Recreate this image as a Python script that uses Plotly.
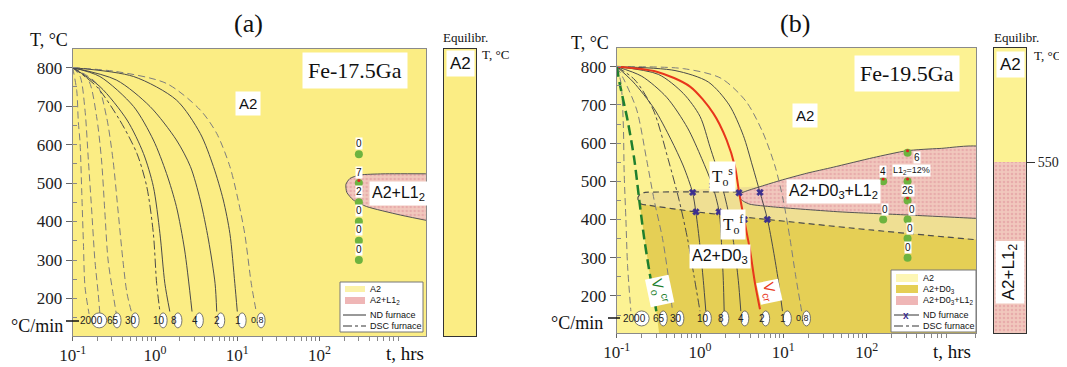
import math
import plotly.graph_objects as go

W, H = 1067, 367
OFF = 8                      # page body margin of the html page
WF, HF = W - OFF, H - OFF    # figure size so that the page fits the window
SERIF = "Liberation Serif"
SANS = "Liberation Sans"

# ---------------- Panel (a): Fe-17.5Ga  (t in hours, T in deg C) ----------------
a_dash1_t = [0.100, 0.112, 0.117, 0.123, 0.129, 0.135, 0.141, 0.158]
a_dash1_T = [800, 740, 660, 603, 473, 343, 231, 160]
a_dash2_t = [0.100, 0.123, 0.141, 0.155, 0.170, 0.186, 0.204, 0.214]
a_dash2_T = [800, 777, 690, 560, 430, 300, 213, 160]
a_dash3_t = [0.100, 0.155, 0.195, 0.224, 0.245, 0.269, 0.309, 0.339]
a_dash3_T = [800, 768, 673, 560, 430, 300, 213, 160]
a_dash4_t = [0.100, 0.195, 0.257, 0.309, 0.355, 0.407, 0.457, 0.525]
a_dash4_T = [800, 759, 673, 560, 430, 300, 213, 160]
a_dsc10_t = [0.100, 0.195, 0.372, 0.603, 0.794, 0.955, 1.047, 1.148]
a_dsc10_T = [800, 751, 664, 577, 491, 369, 239, 166]
a_nd8_t = [0.100, 0.214, 0.457, 0.724, 0.955, 1.148, 1.318, 1.514]
a_nd8_T = [800, 751, 664, 577, 491, 369, 239, 166]
a_nd4_t = [0.100, 0.214, 0.550, 0.955, 1.380, 1.820, 2.291, 2.818]
a_nd4_T = [800, 777, 699, 612, 525, 439, 326, 166]
a_nd2_t = [0.100, 0.339, 0.871, 1.820, 2.692, 3.548, 4.467, 5.370, 5.623]
a_nd2_T = [800, 768, 699, 612, 543, 456, 352, 239, 166]
a_nd1_t = [0.100, 0.550, 1.820, 3.548, 5.129, 6.761, 8.128, 9.333, 10.0]
a_nd1_T = [800, 777, 716, 629, 543, 456, 369, 239, 166]
a_dash08_t = [0.100, 0.339, 1.380, 3.548, 5.623, 8.128, 10.23, 12.30, 14.79, 16.98]
a_dash08_T = [800, 790, 759, 690, 629, 543, 456, 369, 239, 166]

a_l12_t = [2600, 589, 309, 234, 209, 214, 257, 372, 955, 2600]
a_l12_T = [524, 524, 521, 512, 497, 476, 456, 439, 417, 398]

a_dot_t = [300, 300, 300, 300, 300, 300]
a_dot_T = [575, 500, 450, 400, 350, 300]
a_dot_lbl = ["0", "7", "2", "0", "0", "0"]
a_red_t = [300]
a_red_T = [507]

rate_lbl = ["2000", "65", "30", "10", "8", "4", "2", "1", "0.8"]
a_rate_t = [0.170, 0.309, 0.513, 1.122, 1.698, 3.090, 5.623, 10.23, 17.38]
a_rate_T = 143

# ---------------- Panel (b): Fe-19.5Ga ----------------
b_dash1_t = [0.100, 0.112, 0.120, 0.123, 0.129, 0.135, 0.148]
b_dash1_T = [800, 760, 650, 520, 400, 280, 160]
b_green_t = [0.100, 0.110, 0.135, 0.162, 0.188, 0.214, 0.245, 0.275, 0.299]
b_green_T = [800, 750, 660, 560, 445, 350, 268, 205, 160]
b_dash2_t = [0.100, 0.123, 0.174, 0.229, 0.282, 0.355, 0.417, 0.468]
b_dash2_T = [800, 765, 687, 556, 450, 350, 250, 160]
b_dsc_t = [0.100, 0.166, 0.275, 0.417, 0.562, 0.708, 0.851, 1.0]
b_dsc_T = [800, 765, 687, 556, 450, 350, 250, 160]
b_nd10_t = [0.100, 0.158, 0.282, 0.447, 0.631, 0.813, 0.891, 1.0, 1.096, 1.175]
b_nd10_T = [800, 760, 690, 610, 540, 471, 420, 330, 240, 160]
b_nd8_t = [0.100, 0.200, 0.398, 0.708, 1.047, 1.413, 1.698, 1.820, 1.905, 1.950]
b_nd8_T = [800, 775, 720, 640, 560, 489, 420, 330, 240, 160]
b_nd4_t = [0.100, 0.316, 0.631, 1.0, 1.318, 1.778, 2.188, 2.570, 2.884, 3.090]
b_nd4_T = [800, 780, 730, 670, 590, 500, 420, 330, 240, 160]
b_vcr_t = [0.100, 0.302, 0.759, 1.445, 2.089, 2.630, 2.951, 3.388, 3.981, 4.571, 5.248]
b_vcr_T = [800, 787, 748, 678, 608, 538, 470, 400, 320, 233, 165]
b_nd1_t = [0.100, 0.501, 1.259, 2.239, 3.311, 4.266, 5.248, 6.457, 7.586, 8.710, 9.772]
b_nd1_T = [800, 790, 760, 700, 620, 540, 471, 400, 320, 240, 160]
b_dash08_t = [0.100, 0.631, 1.778, 3.548, 5.623, 7.943, 10.0, 12.02, 14.13, 16.60]
b_dash08_T = [800, 795, 770, 710, 630, 540, 450, 350, 250, 160]

b_xmark_t = [0.817, 1.419, 2.938, 5.248, 0.895, 1.690, 3.404, 6.427]
b_xmark_T = [471, 489, 470, 471, 420, 420, 400, 400]

b_d03_t = [0.188, 0.214, 0.245, 0.275, 0.299, 0.324, 2600, 2600, 2042, 120.2, 6.457, 0.891, 0.229]
b_d03_T = [442, 350, 268, 205, 160, 100, 100, 345, 348, 372, 400, 420, 438]
b_band_t = [0.219, 2600, 2600, 120.2, 6.457, 0.891, 0.229, 0.200, 0.182, 0.180, 0.191]
b_band_T = [471, 471, 345, 372, 400, 420, 438, 440, 447, 458, 467]
b_to_t = [2.95, 0.219, 0.191, 0.180, 0.182, 0.200, 0.229, 0.891, 6.457, 120.2, 2600]
b_to_T = [472, 471, 467, 458, 447, 440, 438, 420, 400, 372, 345]
b_l12_t = [2.951, 3.548, 5.623, 9.12, 19.05, 39.8, 120.2, 302, 759, 2600, 2600,
           2042, 302, 47.9, 7.586, 3.981, 3.311, 3.020, 2.951]
b_l12_T = [466, 474, 488, 502, 521, 537, 562, 580, 586, 587, 402,
           403, 412, 420, 433, 440, 448, 456, 466]

b_dot_t = [310, 310, 310, 310, 310, 310, 158, 158]
b_dot_T = [575, 500, 450, 400, 350, 300, 500, 400]
b_dot_lbl = ["6", "L1<sub>2</sub>=12%", "26", "0", "0", "0", "4", "0"]
b_dot_dx = [9, 4, 0, 4, 2, 0, 0, 2]
b_dot_dy = [-5, 11, 10, 10, 10, 10, 10, 10]
b_red_t = [310, 158, 310, 310]
b_red_T = [580, 506, 506, 456]

b_rate_t = [0.162, 0.324, 0.513, 1.096, 1.778, 3.090, 5.495, 10.0, 16.98]
b_rate_T = 141

eq_b_boundary = 550

# ---------------- colours ----------------
A2_A = "#fbed84"
A2_B = "#fcf293"
BAND = "#efdf93"
DARK = "#e5cf55"
PINK_BG = "#f1c8bd"
PINK_FG = "#e0909a"
LINE = "#4a4a4a"
GRAYD = "#7d7d7d"


# ---------------- geometry (window pixels -> paper) ----------------
def P(x):
    return (x - OFF) / WF


def Q(y):
    return 1 - (y - OFF) / HF


xa_dom = [P(72.7), P(426)]
ya_dom = [Q(336), Q(49)]
xe_a_dom = [P(444), P(476)]
xb_dom = [P(616.7), P(976)]
yb_dom = [Q(333), Q(48)]
xe_b_dom = [P(994), P(1026)]
yr_a = [102.4, 848.6]
yr_b = [102.9, 849.0]
xr_a = [-1, 3.293]
xr_b = [-1, 3.313]

fig = go.Figure()


def curve(t, T, xa, ya, color=LINE, width=1.0, dash="solid", smooth=0.8):
    fig.add_trace(go.Scatter(x=t, y=T, xaxis=xa, yaxis=ya, mode="lines",
                             line=dict(color=color, width=width, dash=dash,
                                       shape="spline", smoothing=smooth),
                             hoverinfo="skip", showlegend=False))


def region(t, T, xa, ya, color, pattern=False, outline=None, shape="linear"):
    kw = dict(x=t, y=T, xaxis=xa, yaxis=ya, mode="lines", fill="toself",
              fillcolor=color, hoverinfo="skip", showlegend=False,
              line=dict(width=1 if outline else 0, color=outline or color,
                        shape=shape, smoothing=0.6))
    if pattern:
        kw["fillpattern"] = dict(shape=".", bgcolor=PINK_BG, fgcolor=PINK_FG,
                                 size=4, solidity=0.35)
    fig.add_trace(go.Scatter(**kw))


# ---------- panel (a) ----------
region(a_l12_t, a_l12_T, "x", "y", PINK_BG, pattern=True, outline="#555555", shape="spline")
dash_long = "7px,4px"
for t, T in [(a_dash1_t, a_dash1_T), (a_dash2_t, a_dash2_T), (a_dash3_t, a_dash3_T),
             (a_dash4_t, a_dash4_T), (a_dash08_t, a_dash08_T)]:
    curve(t, T, "x", "y", color=GRAYD, dash=dash_long)
curve(a_dsc10_t, a_dsc10_T, "x", "y", dash="dashdot")
for t, T in [(a_nd8_t, a_nd8_T), (a_nd4_t, a_nd4_T), (a_nd2_t, a_nd2_T), (a_nd1_t, a_nd1_T)]:
    curve(t, T, "x", "y")
fig.add_trace(go.Scatter(x=a_dot_t, y=a_dot_T, xaxis="x", yaxis="y", mode="markers",
                         marker=dict(color="#6db33f", size=8), hoverinfo="skip", showlegend=False))
fig.add_trace(go.Scatter(x=a_red_t, y=a_red_T, xaxis="x", yaxis="y", mode="markers",
                         marker=dict(color="#e02020", size=3), hoverinfo="skip", showlegend=False))

# ---------- panel (b) ----------
region(b_band_t, b_band_T, "x3", "y3", BAND, shape="spline")
region(b_d03_t, b_d03_T, "x3", "y3", DARK)
region(b_l12_t, b_l12_T, "x3", "y3", PINK_BG, pattern=True, outline="#555555", shape="spline")
curve(b_to_t, b_to_T, "x3", "y3", color="#4d4d4d", width=1.2, dash="6px,4px", smooth=0.4)
for t, T in [(b_dash1_t, b_dash1_T), (b_dash2_t, b_dash2_T), (b_dash08_t, b_dash08_T)]:
    curve(t, T, "x3", "y3", color=GRAYD, dash=dash_long)
curve(b_dsc_t, b_dsc_T, "x3", "y3", dash="dashdot")
for t, T in [(b_nd10_t, b_nd10_T), (b_nd8_t, b_nd8_T), (b_nd4_t, b_nd4_T), (b_nd1_t, b_nd1_T)]:
    curve(t, T, "x3", "y3")
curve(b_vcr_t, b_vcr_T, "x3", "y3", color="#e8361c", width=2)
curve(b_green_t, b_green_T, "x3", "y3", color="#1f7f2e", width=2.5, dash="10px,5px")
fig.add_trace(go.Scatter(x=b_xmark_t, y=b_xmark_T, xaxis="x3", yaxis="y3", mode="markers",
                         marker=dict(symbol="x", color="#3b2f8f", size=6,
                                     line=dict(width=0.5, color="#3b2f8f")),
                         hoverinfo="skip", showlegend=False))
fig.add_trace(go.Scatter(x=b_dot_t, y=b_dot_T, xaxis="x3", yaxis="y3", mode="markers",
                         marker=dict(color="#6db33f", size=8), hoverinfo="skip", showlegend=False))
fig.add_trace(go.Scatter(x=b_red_t, y=b_red_T, xaxis="x3", yaxis="y3", mode="markers",
                         marker=dict(color="#e02020", size=3), hoverinfo="skip", showlegend=False))

# ---------- equilibrium bars ----------
fig.add_trace(go.Bar(x=[0], y=[yr_a[1] - yr_a[0]], base=[yr_a[0]], width=1,
                     xaxis="x2", yaxis="y2", marker=dict(color=A2_A, line=dict(width=0)),
                     hoverinfo="skip", showlegend=False))
fig.add_trace(go.Bar(x=[0], y=[eq_b_boundary - yr_b[0]], base=[yr_b[0]], width=1,
                     xaxis="x4", yaxis="y4",
                     marker=dict(color=PINK_BG, line=dict(width=0),
                                 pattern=dict(shape=".", bgcolor=PINK_BG, fgcolor=PINK_FG,
                                              size=4, solidity=0.35)),
                     hoverinfo="skip", showlegend=False))
fig.add_trace(go.Bar(x=[0], y=[yr_b[1] - eq_b_boundary], base=[eq_b_boundary], width=1,
                     xaxis="x4", yaxis="y4", marker=dict(color=A2_B, line=dict(width=0)),
                     hoverinfo="skip", showlegend=False))

# ---------- axes ----------
minor_vals = [m * 10 ** e for e in range(-1, 4) for m in range(2, 10)]
xticks = dict(tickvals=[0.1, 1, 10, 100],
              ticktext=["10<sup>-1</sup>", "10<sup>0</sup>", "10<sup>1</sup>", "10<sup>2</sup>"])


def xmain(dom, rng, anchor):
    return dict(domain=dom, range=rng, type="log", anchor=anchor, showline=True, mirror=True,
                linecolor="#8a8a8a", linewidth=1, ticks="outside", ticklen=4,
                tickcolor="#666", showgrid=False, zeroline=False, automargin=False,
                tickfont=dict(family=SERIF, size=17, color="#222"),
                minor=dict(tickmode="array", tickvals=minor_vals, ticks="outside",
                           ticklen=4, tickcolor="#888", showgrid=False), **xticks)


def ymain(dom, rng, anchor):
    return dict(domain=dom, range=rng, anchor=anchor, showline=True, mirror=True,
                linecolor="#8a8a8a", linewidth=1, ticks="outside", ticklen=6,
                tickcolor="#666", dtick=100, tick0=0, showgrid=False, zeroline=False,
                automargin=False, tickfont=dict(family=SERIF, size=17, color="#222"),
                minor=dict(dtick=50, ticks="inside", ticklen=4, tickcolor="#888",
                           showgrid=False))


def xeq(dom, anchor):
    return dict(domain=dom, range=[-0.5, 0.5], anchor=anchor, showline=True, mirror=True,
                linecolor="#333", linewidth=1, showticklabels=False, ticks="",
                showgrid=False, zeroline=False, fixedrange=True, automargin=False)


fig.update_layout(
    width=WF, height=HF, autosize=False, margin=dict(l=0, r=0, t=0, b=0, pad=0),
    paper_bgcolor="white", plot_bgcolor="white", barmode="overlay", bargap=0,
    xaxis=xmain(xa_dom, xr_a, "y"), yaxis=ymain(ya_dom, yr_a, "x"),
    xaxis2=xeq(xe_a_dom, "y2"),
    yaxis2=dict(domain=ya_dom, range=yr_a, anchor="x2", showline=True, mirror=True,
                linecolor="#333", showticklabels=False, ticks="", showgrid=False,
                zeroline=False, automargin=False),
    xaxis3=xmain(xb_dom, xr_b, "y3"), yaxis3=ymain(yb_dom, yr_b, "x3"),
    xaxis4=xeq(xe_b_dom, "y4"),
    yaxis4=dict(domain=yb_dom, range=yr_b, anchor="x4", side="right", showline=True,
                mirror=True, linecolor="#333", tickvals=[eq_b_boundary], ticks="outside",
                ticklen=8, tickcolor="#333", showgrid=False, zeroline=False,
                automargin=False, tickfont=dict(family=SERIF, size=14, color="#222")),
)

# ---------- shapes ----------
shapes = []
shapes.append(dict(type="rect", xref="x domain", yref="y domain", x0=0, x1=1, y0=0, y1=1,
                   fillcolor=A2_A, line=dict(width=0), layer="below"))
shapes.append(dict(type="rect", xref="x3 domain", yref="y3 domain", x0=0, x1=1, y0=0, y1=1,
                   fillcolor=A2_B, line=dict(width=0), layer="below"))


def rate_circles(ts, T, xr, yr):
    for lbl, t in zip(rate_lbl, ts):
        w = 30 if lbl == "2000" else 16
        shapes.append(dict(type="circle", xref=xr, yref=yr, xsizemode="pixel",
                           ysizemode="pixel", xanchor=t, yanchor=T, x0=-w / 2, x1=w / 2,
                           y0=-7.5, y1=7.5, fillcolor="white",
                           line=dict(color="#555", width=0.8), layer="above"))


rate_circles(a_rate_t, a_rate_T, "x", "y")
rate_circles(b_rate_t, b_rate_T, "x3", "y3")

# tick markers for the cooling-rate row
for x0, x1, yy in [(66, 79, 321), (608, 620, 318)]:
    shapes.append(dict(type="line", xref="paper", yref="paper", x0=P(x0), x1=P(x1),
                       y0=Q(yy), y1=Q(yy), line=dict(color="#111", width=1.5)))

# white label box in equilibrium bar (b)
shapes.append(dict(type="rect", xref="x4", yref="y4", x0=-0.45, x1=0.45, y0=180, y1=344,
                   fillcolor="white", line=dict(width=0), layer="above"))

# legends (boxes, swatches, line samples)
shapes.append(dict(type="rect", xref="paper", yref="paper", x0=P(340), x1=P(423),
                   y0=Q(332), y1=Q(282), fillcolor="white", line=dict(color="#777", width=1)))
shapes.append(dict(type="rect", xref="paper", yref="paper", x0=P(345), x1=P(365),
                   y0=Q(292), y1=Q(286), fillcolor="#fbf2a8", line=dict(width=0)))
shapes.append(dict(type="rect", xref="paper", yref="paper", x0=P(345), x1=P(365),
                   y0=Q(304), y1=Q(297), fillcolor="#efb6b6", line=dict(width=0)))
shapes.append(dict(type="line", xref="paper", yref="paper", x0=P(343), x1=P(366),
                   y0=Q(315), y1=Q(315), line=dict(color="#333", width=1)))
shapes.append(dict(type="line", xref="paper", yref="paper", x0=P(343), x1=P(366),
                   y0=Q(326), y1=Q(326), line=dict(color="#333", width=1, dash="dashdot")))

shapes.append(dict(type="rect", xref="paper", yref="paper", x0=P(891), x1=P(976),
                   y0=Q(332), y1=Q(270), fillcolor="white", line=dict(color="#777", width=1)))
shapes.append(dict(type="rect", xref="paper", yref="paper", x0=P(896), x1=P(918),
                   y0=Q(282), y1=Q(274), fillcolor="#fdf6b4", line=dict(width=0)))
shapes.append(dict(type="rect", xref="paper", yref="paper", x0=P(896), x1=P(918),
                   y0=Q(293), y1=Q(285), fillcolor=DARK, line=dict(width=0)))
shapes.append(dict(type="rect", xref="paper", yref="paper", x0=P(896), x1=P(918),
                   y0=Q(305), y1=Q(296), fillcolor="#efb6b6", line=dict(width=0)))
shapes.append(dict(type="line", xref="paper", yref="paper", x0=P(894), x1=P(919),
                   y0=Q(315), y1=Q(315), line=dict(color="#333", width=1)))
shapes.append(dict(type="line", xref="paper", yref="paper", x0=P(894), x1=P(919),
                   y0=Q(326), y1=Q(326), line=dict(color="#333", width=1, dash="dashdot")))

fig.update_layout(shapes=shapes)

# ---------- annotations ----------
ann = []


def A(text, x, y, xref="paper", yref="paper", size=12, family=SANS, color="#111",
      bg=None, pad=1, xanchor="center", yanchor="middle", **kw):
    d = dict(text=text, x=x, y=y, xref=xref, yref=yref, showarrow=False,
             font=dict(family=family, size=size, color=color),
             xanchor=xanchor, yanchor=yanchor)
    if bg:
        d.update(bgcolor=bg, borderpad=pad)
    d.update(kw)
    ann.append(d)


L = math.log10

# titles and axis captions
A("(a)", P(248), Q(8.5), size=26, family=SERIF, yanchor="top", borderpad=0)
A("(b)", P(795), Q(8.5), size=26, family=SERIF, yanchor="top", borderpad=0)
A("T, °C", P(49), Q(40), size=18, family=SERIF)
A("T, °C", P(590), Q(43), size=18, family=SERIF)
A("t, hrs", P(405), Q(353), size=19, family=SERIF)
A("t, hrs", P(952), Q(351), size=19, family=SERIF)
A("°C/min", P(37), Q(326), size=18, family=SERIF)
A("°C/min", P(577), Q(323), size=18, family=SERIF)
A("Equilibr.", P(465), Q(37), size=13, family=SERIF)
A("Equilibr.", P(1016), Q(37), size=13, family=SERIF)
A("T, °C", P(495), Q(54), size=13, family=SERIF)
A("T, °C", P(1047), Q(55), size=13, family=SERIF)

# panel (a) region labels
A("A2", L(13.5), 706, "x", "y", size=15, bg="white", pad=3)
A("Fe-17.5Ga", L(270), 794, "x", "y", size=22, family=SERIF, bg="white", pad=5)
A("A2+L1<sub>2</sub>", L(912), 473, "x", "y", size=16, bg="white", pad=2)

# panel (b) region labels
A("A2", L(18.2), 673, "x3", "y3", size=15, bg="white", pad=3)
A("Fe-19.5Ga", L(302), 781, "x3", "y3", size=22, family=SERIF, bg="white", pad=5)
A("A2+D0<sub>3</sub>+L1<sub>2</sub>", L(39.8), 473, "x3", "y3", size=16, bg="white", pad=2)
A("A2+D0<sub>3</sub>", L(1.74), 303, "x3", "y3", size=16, bg="white", pad=2)
A("T<sub>o</sub><sup>s</sup>", L(1.86), 512, "x3", "y3", size=17, family=SERIF, bg="white", pad=2)
A("T<sub>o</sub><sup>f</sup>", L(2.51), 386, "x3", "y3", size=17, family=SERIF, bg="white", pad=2)
A("V<sub>o</sub><sup>cr</sup>", L(0.33), 212, "x3", "y3", size=15, color="#1f7f2e",
  bg="white", pad=1, textangle=78)
A("V<sub>cr</sub>", L(6.9), 210, "x3", "y3", size=15, color="#e8361c",
  bg="white", pad=1, textangle=78)

# dot labels
for t, T, lbl in zip(a_dot_t, a_dot_T, a_dot_lbl):
    A(lbl, L(t), T, "x", "y", size=10, bg="white", pad=0, yshift=11)
for t, T, lbl, dx, dy in zip(b_dot_t, b_dot_T, b_dot_lbl, b_dot_dx, b_dot_dy):
    A(lbl, L(t), T, "x3", "y3", size=10 if len(lbl) < 4 else 9, bg="white", pad=0,
      xshift=dx, yshift=dy)

# cooling-rate labels
for lbl, t in zip(rate_lbl, a_rate_t):
    A(lbl, L(t), a_rate_T, "x", "y", size=10 if lbl != "0.8" else 9, color="#222")
for lbl, t in zip(rate_lbl, b_rate_t):
    A(lbl, L(t), b_rate_T, "x3", "y3", size=10 if lbl != "0.8" else 9, color="#222")

# equilibrium bar labels
A("A2", 0, 810, "x2", "y2", size=17, bg="white", pad=3)
A("A2", 0, 807, "x4", "y4", size=17, bg="white", pad=3)
A("A2+L1<sub>2</sub>", 0, 262, "x4", "y4", size=17, textangle=-90)

# legend texts
A("A2", P(368), Q(289), size=9, xanchor="left")
A("A2+L1<sub>2</sub>", P(368), Q(300), size=9, xanchor="left")
A("ND furnace", P(368), Q(315), size=9, xanchor="left")
A("DSC furnace", P(368), Q(326), size=9, xanchor="left")
A("A2", P(921), Q(278), size=9, xanchor="left")
A("A2+D0<sub>3</sub>", P(921), Q(289), size=9, xanchor="left")
A("A2+D0<sub>3</sub>+L1<sub>2</sub>", P(921), Q(300), size=9, xanchor="left")
A("ND furnace", P(921), Q(315), size=9, xanchor="left")
A("DSC furnace", P(921), Q(326), size=9, xanchor="left")
A("<b>x</b>", P(906), Q(315), size=10, color="#3b2f8f")

fig.update_layout(annotations=ann)

fig.write_html("out.html")
